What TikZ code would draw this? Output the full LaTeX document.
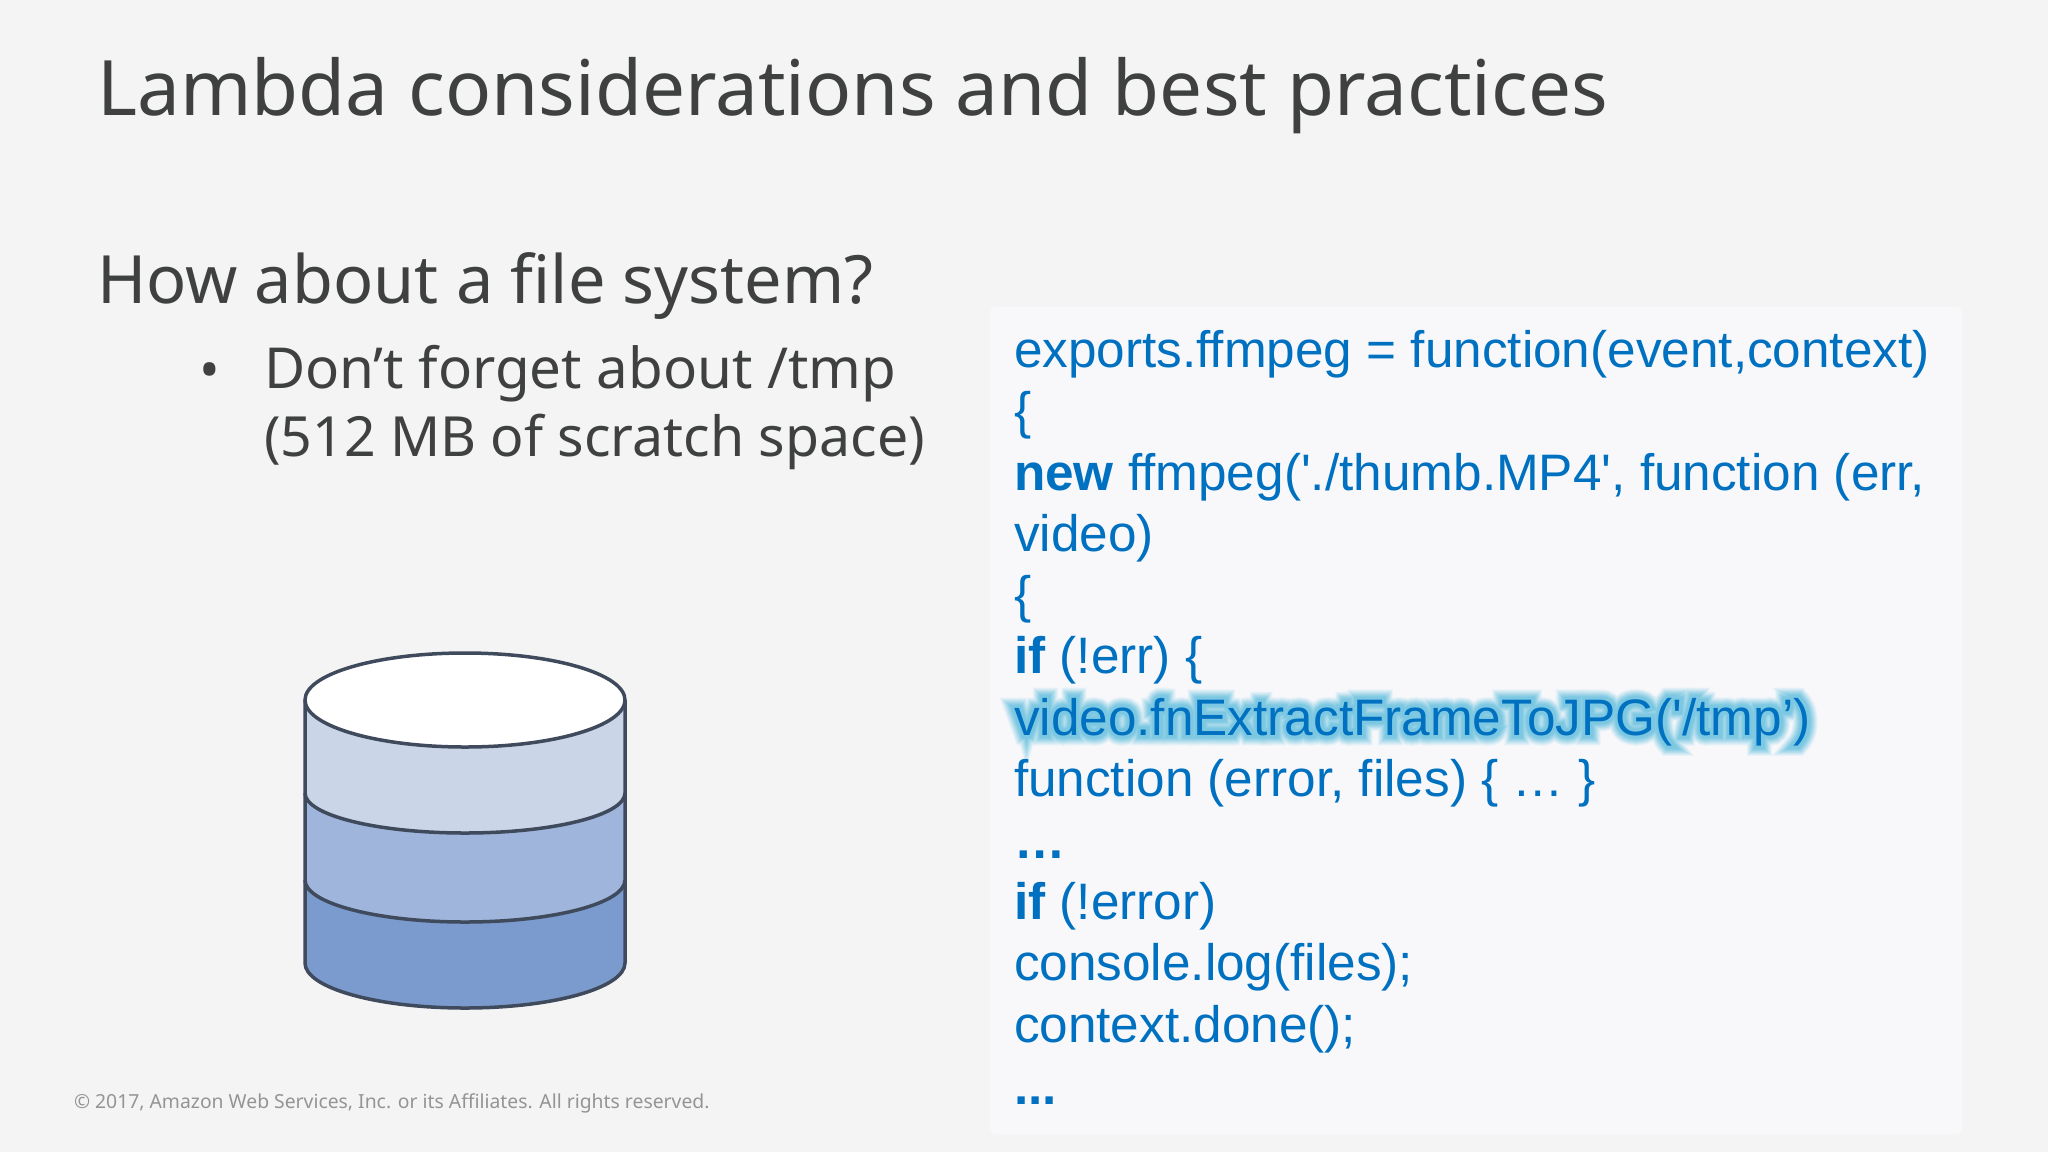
\documentclass[tikz,border=0pt]{standalone}
\usepackage{fontspec}
\setmainfont{Noto Sans}
\newfontfamily\codefont{Liberation Sans}
\newfontfamily\glowa[FakeBold=12]{Liberation Sans}
\newfontfamily\glowb[FakeBold=16]{Liberation Sans}
\newfontfamily\glowc[FakeBold=20]{Liberation Sans}
\newfontfamily\glowd[FakeBold=24]{Liberation Sans}
\newfontfamily\glowe[FakeBold=28]{Liberation Sans}
\newfontfamily\glowf[FakeBold=32]{Liberation Sans}
\newfontfamily\glowg[FakeBold=36]{Liberation Sans}
\newfontfamily\glowh[FakeBold=40]{Liberation Sans}
\definecolor{bgc}{HTML}{F4F4F5}
\definecolor{panelc}{HTML}{F8F8FB}
\definecolor{inkc}{HTML}{3F4040}
\definecolor{codec}{HTML}{0070C0}
\definecolor{glowcol}{HTML}{7CC8E2}
\definecolor{cylline}{HTML}{3F4A5C}
\definecolor{bandA}{HTML}{CBD5E8}
\definecolor{bandB}{HTML}{A0B5DC}
\definecolor{bandC}{HTML}{7B9ACE}
\newcommand{\codesize}{\fontsize{51.3}{56}\selectfont}
\newcommand{\glowtxt}{video.fnExtractFrameToJPG('/tmp’)}
\tikzset{
  txt/.style={anchor=base west,inner sep=0pt,outer sep=0pt,text=inkc},
  codeline/.style={anchor=base west,inner sep=0pt,outer sep=0pt,text=codec,font=\codefont\codesize},
  cyl/.style={draw=cylline,line width=3.5pt,line join=round},
  glowtext/.style={anchor=base west,inner sep=0pt,outer sep=0pt}
}
\begin{document}
\begin{tikzpicture}[x=1pt,y=-1pt]
\useasboundingbox (0,0) rectangle (2048,1152);
\fill[bgc] (0,0) rectangle (2048,1152);
\fill[panelc,rounded corners=6pt] (990,307) rectangle (1962,1134);
% title and bullet text
\node[txt,font=\fontsize{76.5}{80}\selectfont] (title) at (97,115) {Lambda considerations and best practices};
\node[txt,font=\fontsize{66.6}{70}\selectfont] (head) at (97,303) {How about a file system?};
\node[txt,font=\fontsize{55}{60}\selectfont] (bul) at (199,389) {•};
\node[txt,font=\fontsize{56.5}{60}\selectfont] (l1) at (264,388) {Don’t forget about /tmp};
\node[txt,font=\fontsize{55.4}{60}\selectfont] (l2) at (264,456) {(512 MB of scratch space)};
\node[txt,text=black!42,font=\fontsize{19.35}{24}\selectfont] (foot) at (74,1108) {© 2017, Amazon Web Services, Inc. or its Affiliates. All rights reserved.};
% cylinder
\fill[bandC] (305,700) -- (305,963) arc[start angle=180,end angle=0,x radius=160,y radius=45] -- (625,700) -- cycle;
\fill[bandB] (305,700) -- (305,880) arc[start angle=180,end angle=0,x radius=160,y radius=42] -- (625,700) -- cycle;
\fill[bandA] (305,700) -- (305,793) arc[start angle=180,end angle=0,x radius=160,y radius=40] -- (625,700) -- cycle;
\draw[cyl] (305,793) arc[start angle=180,end angle=0,x radius=160,y radius=40];
\draw[cyl] (305,880) arc[start angle=180,end angle=0,x radius=160,y radius=42];
\draw[cyl,fill=white] (465,700) ellipse[x radius=160,y radius=47];
\draw[cyl] (305,700) -- (305,963) arc[start angle=180,end angle=0,x radius=160,y radius=45] -- (625,700);
% glow
\node[glowtext,text=glowcol!12!panelc,font=\glowh\codesize] (g8) at (1014,735) {\glowtxt};
\node[glowtext,text=glowcol!25!panelc,font=\glowg\codesize] (g7) at (1014,735) {\glowtxt};
\node[glowtext,text=glowcol!38!panelc,font=\glowf\codesize] (g6) at (1014,735) {\glowtxt};
\node[glowtext,text=glowcol!52!panelc,font=\glowe\codesize] (g5) at (1014,735) {\glowtxt};
\node[glowtext,text=glowcol!65!panelc,font=\glowd\codesize] (g4) at (1014,735) {\glowtxt};
\node[glowtext,text=glowcol!78!panelc,font=\glowc\codesize] (g3) at (1014,735) {\glowtxt};
\node[glowtext,text=glowcol!90!panelc,font=\glowb\codesize] (g2) at (1014,735) {\glowtxt};
\node[glowtext,text=glowcol,font=\glowa\codesize] (g1) at (1014,735) {\glowtxt};
% code
\node[codeline] (c1) at (1014,367) {exports.ffmpeg = function(event,context)};
\node[codeline] (c2) at (1014,428) {\{};
\node[codeline] (c3) at (1014,490) {\textbf{new} ffmpeg('./thumb.MP4', function (err,};
\node[codeline] (c4) at (1014,551) {video)};
\node[codeline] (c5) at (1014,612) {\{};
\node[codeline] (c6) at (1014,673) {\textbf{if} (!err) \{};
\node[codeline] (c7) at (1014,735) {\glowtxt};
\node[codeline] (c8) at (1014,796) {function (error, files) \{ … \}};
\node[codeline] (c9) at (1014,858) {\textbf{…}};
\node[codeline] (c10) at (1014,919) {\textbf{if} (!error)};
\node[codeline] (c11) at (1014,980) {console.log(files);};
\node[codeline] (c12) at (1014,1042) {context.done();};
\node[codeline] (c13) at (1014,1104) {\textbf{...}};
\end{tikzpicture}
\end{document}
